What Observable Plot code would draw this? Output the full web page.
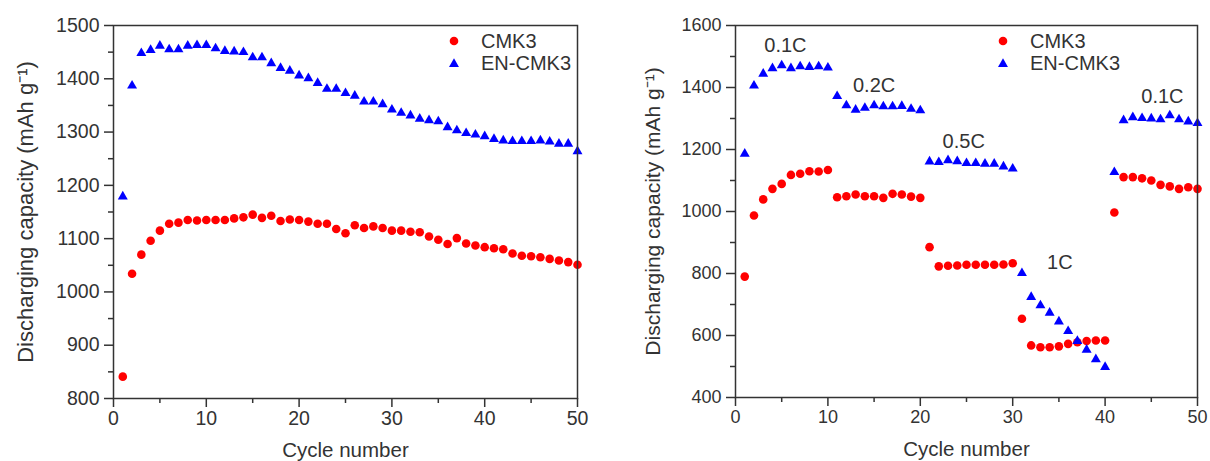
<!DOCTYPE html>
<html>
<head>
<meta charset="utf-8">
<script src="https://cdn.jsdelivr.net/npm/d3@7"></script>
<script src="https://cdn.jsdelivr.net/npm/@observablehq/plot@0.6"></script>
<style>
  html, body { margin: 0; padding: 0; background: #fff; }
  #wrap { position: relative; width: 1210px; height: 461px; overflow: hidden; font-family: "Liberation Sans", Arial, sans-serif; color: #333; }
  .panel { position: absolute; top: 0; }
  .legend { position: absolute; font-size: 20px; color: #333; }
  .legend .row { display: flex; align-items: center; height: 22.6px; }
  .legend .row span { margin-left: 17px; }
</style>
</head>
<body>
<div id="wrap">
  <div id="left" class="panel" style="left:0px"></div>
  <div id="right" class="panel" style="left:605px"></div>
</div>
<script>
// ---- Data ----
const cycles = [1,2,3,4,5,6,7,8,9,10,11,12,13,14,15,16,17,18,19,20,21,22,23,24,25,26,27,28,29,30,31,32,33,34,35,36,37,38,39,40,41,42,43,44,45,46,47,48,49,50];
const seriesNames = ["CMK3", "EN-CMK3"];

// Left panel: cycling performance
const leftCMK3 = [841,1034,1070,1096,1115,1128,1130,1135,1134,1135,
                  1135,1135,1138,1140,1145,1139,1143,1133,1136,1135,
                  1132,1128,1128,1118,1110,1125,1120,1123,1120,1115,
                  1115,1113,1112,1104,1098,1090,1101,1091,1087,1084,
                  1082,1080,1072,1068,1067,1065,1062,1059,1056,1051];
const leftENCMK3 = [1179,1387,1448,1454,1462,1455,1455,1462,1463,1463,
                    1457,1452,1451,1450,1440,1440,1429,1420,1415,1406,
                    1401,1392,1381,1381,1373,1368,1357,1357,1352,1342,
                    1336,1331,1325,1322,1320,1309,1303,1298,1295,1292,
                    1287,1284,1283,1283,1283,1284,1282,1278,1278,1264];

// Right panel: rate performance
const rightCMK3 = [790,987,1039,1073,1089,1118,1122,1130,1129,1134,
                   1046,1049,1055,1049,1049,1044,1057,1055,1048,1044,
                   885,823,825,826,828,828,828,828,829,833,
                   654,568,562,562,565,573,578,582,584,584,
                   997,1111,1111,1107,1100,1086,1081,1073,1078,1073];
const rightENCMK3 = [1186,1406,1444,1462,1471,1462,1468,1466,1468,1464,
                     1372,1342,1328,1334,1342,1339,1339,1340,1331,1326,
                     1161,1159,1165,1162,1156,1156,1154,1154,1145,1138,
                     801,724,697,673,645,614,582,554,523,498,
                     1127,1294,1304,1301,1300,1297,1310,1297,1290,1285];

// Rate annotations (label, cycle, capacity)
const rateLabels = ["0.1C", "0.2C", "0.5C", "1C", "0.1C"];
const rateX = [5.4, 15.0, 24.7, 35.1, 46.2];
const rateY = [1535, 1406, 1224, 836, 1372];

// Axis ticks
const xTicks = [0, 10, 20, 30, 40, 50];
const xMinor = [5, 15, 25, 35, 45];
const leftYTicks = [800, 900, 1000, 1100, 1200, 1300, 1400, 1500];
const leftYMinor = [850, 950, 1050, 1150, 1250, 1350, 1450];
const rightYTicks = [400, 600, 800, 1000, 1200, 1400, 1600];
const rightYMinor = [500, 700, 900, 1100, 1300, 1500];

const xTitle = "Cycle number";
const yTitle = "Discharging capacity (mAh g\u207B\u00B9)";

const colors = ["#ff0000", "#0000ff"];
const ink = "#333333";

function rows(a, b) {
  return cycles.map((c, i) => ({cycle: c, CMK3: a[i], EN: b[i]}));
}

function panel(opts) {
  const data = rows(opts.a, opts.b);
  const marks = [
    Plot.axisX({ticks: xTicks, tickSize: 9, tickPadding: 4, tickFormat: d => String(d), label: null, stroke: ink, strokeWidth: 1.5, fill: ink, fontSize: opts.tickFont}),
    Plot.axisX({ticks: xMinor, tickSize: 5, text: null, label: null, stroke: ink, strokeWidth: 1.5}),
    Plot.axisY({ticks: opts.yTicks, tickSize: 9, tickPadding: 5, tickFormat: d => String(d), label: null, stroke: ink, strokeWidth: 1.5, fill: ink, fontSize: opts.tickFont}),
    Plot.axisY({ticks: opts.yMinor, tickSize: 5, text: null, label: null, stroke: ink, strokeWidth: 1.5}),
    Plot.dot(data, {x: "cycle", y: "CMK3", symbol: "circle", r: 4.3, fill: colors[0], stroke: "none"}),
    Plot.dot(data, {x: "cycle", y: "EN", symbol: "triangle", r: 3.7, fill: colors[1], stroke: "none"}),
    Plot.frame({stroke: ink, strokeWidth: 1.5}),
    Plot.text([xTitle], {frameAnchor: "bottom", dy: 52, text: d => d, fontSize: 20.5, fill: ink, lineAnchor: "middle"}),
    Plot.text([yTitle], {frameAnchor: "left", dx: opts.yTitleDx, rotate: -90, text: d => d, fontSize: opts.yTitleFont, fill: ink, lineAnchor: "middle", textAnchor: "middle"})
  ];
  if (opts.labels) {
    const lab = rateLabels.map((t, i) => ({t, x: rateX[i], y: rateY[i]}));
    marks.push(Plot.text(lab, {x: "x", y: "y", text: "t", fontSize: 20, fill: ink}));
  }
  return Plot.plot({
    width: 605,
    height: 461,
    marginLeft: opts.ml,
    marginRight: opts.mr,
    marginTop: 25,
    marginBottom: opts.mb,
    x: {domain: [0, 50]},
    y: {domain: opts.yDomain},
    style: {fontFamily: "'Liberation Sans', Arial, sans-serif", fontSize: "18px", color: ink, background: "white", overflow: "visible"},
    marks
  });
}

document.getElementById("left").appendChild(panel({
  a: leftCMK3, b: leftENCMK3, yDomain: [800, 1500], yTicks: leftYTicks, yMinor: leftYMinor,
  ml: 113, mr: 28, mb: 63, yTitleDx: -88, yTitleFont: 22, tickFont: 19.5, labels: false
}));
document.getElementById("right").appendChild(panel({
  a: rightCMK3, b: rightENCMK3, yDomain: [400, 1600], yTicks: rightYTicks, yMinor: rightYMinor,
  ml: 130, mr: 13, mb: 64, yTitleDx: -82, yTitleFont: 21, tickFont: 18, labels: true
}));

// Legends
function legend(left, top) {
  const div = document.createElement("div");
  div.className = "legend";
  div.style.left = left + "px";
  div.style.top = top + "px";
  const sym = [
    '<svg width="20" height="22" viewBox="-10 -11 20 22"><circle r="4.3" fill="' + colors[0] + '"/></svg>',
    '<svg width="20" height="22" viewBox="-10 -11 20 22"><path d="' + d3.symbol(d3.symbolTriangle, Math.PI * 3.7 * 3.7)() + '" fill="' + colors[1] + '"/></svg>'
  ];
  seriesNames.forEach((n, i) => {
    const row = document.createElement("div");
    row.className = "row";
    row.innerHTML = sym[i] + "<span>" + n + "</span>";
    div.appendChild(row);
  });
  document.getElementById("wrap").appendChild(div);
}
legend(444, 30);
legend(993, 30);
</script>
</body>
</html>
